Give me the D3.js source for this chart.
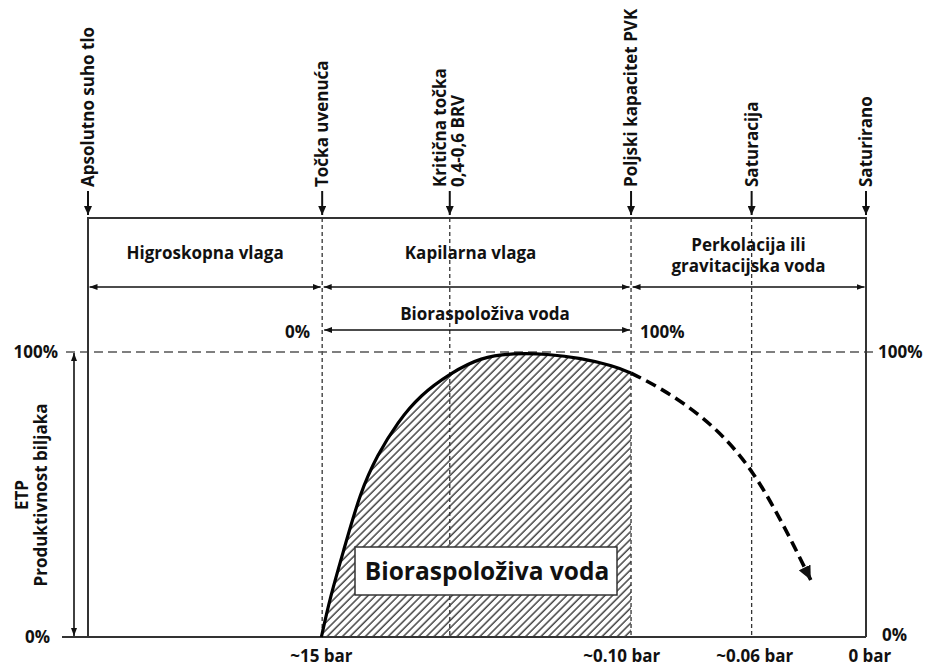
<!DOCTYPE html>
<html>
<head>
<meta charset="utf-8">
<script src="https://cdn.jsdelivr.net/npm/d3@7"></script>
<style>
  body { margin: 0; background: #fff; }
  text { font-family: "Open Sans", "Noto Sans", sans-serif; font-weight: bold; fill: #111; }
</style>
</head>
<body>
<svg id="chart" width="926" height="667"></svg>
<script>
// soil moisture axis runs 0..100 (dry -> saturated), productivity 0..100 %
var markerNames = [["Apsolutno suho tlo"], ["Točka uvenuća"], ["Kritična točka", "0,4-0,6 BRV"],
                   ["Poljski kapacitet PVK"], ["Saturacija"], ["Saturirano"]];
var markerPos = [0, 30.1, 46.5, 69.8, 85.3, 100];

var zoneNames = [["Higroskopna vlaga"], ["Kapilarna vlaga"], ["Perkolacija ili", "gravitacijska voda"]];
var zoneFrom = [0, 30.1, 69.8];
var zoneTo = [30.1, 69.8, 100];

var barLabels = ["~15 bar", "~0.10 bar", "~0.06 bar", "0 bar"];
var barPos = [30.0, 68.6, 85.7, 100.5];

// ETP curve (solid part = plant available water)
var curveX = [30.0, 31.1, 32.8, 35.0, 37.2, 39.8, 42.7, 46.6, 50.5, 54.7, 59.1, 63.3, 67.6, 69.8];
var curveY = [0, 13.7, 29.8, 50.9, 63.9, 75.4, 84.9, 92.6, 98.2, 99.6, 99.3, 97.9, 95.1, 92.6];
// dashed continuation into the saturated zone
var dashX = [69.8, 73.6, 78.4, 82.2, 85.5, 88.2, 90.7, 92.9];
var dashY = [92.6, 87.4, 78.6, 69.1, 57.9, 45.3, 32.3, 20.0];

var fs = 17;   // label font size

var svg = d3.select("#chart");
var x = d3.scaleLinear().domain([0, 100]).range([88, 866]);
var y = d3.scaleLinear().domain([0, 100]).range([637, 352]);
var frameTop = 218;

var defs = svg.append("defs");
function arrowMarker(id, len, wid) {
  defs.append("marker")
    .attr("id", id)
    .attr("viewBox", "0 0 " + len + " " + wid)
    .attr("refX", len).attr("refY", wid / 2)
    .attr("markerWidth", len).attr("markerHeight", wid)
    .attr("markerUnits", "userSpaceOnUse")
    .attr("orient", "auto-start-reverse")
    .append("path")
    .attr("d", "M0,0L" + len + "," + (wid / 2) + "L0," + wid + "Z")
    .attr("fill", "#111");
}
arrowMarker("small", 8, 6);
arrowMarker("top", 9, 8);
arrowMarker("big", 14, 13);

var pat = defs.append("pattern")
  .attr("id", "hatch")
  .attr("patternUnits", "userSpaceOnUse")
  .attr("width", 5.4).attr("height", 10)
  .attr("patternTransform", "rotate(45)");
pat.append("line")
  .attr("x1", 1).attr("y1", 0).attr("x2", 1).attr("y2", 10)
  .attr("stroke", "#000").attr("stroke-width", 1.1);

var solidPts = d3.zip(curveX, curveY);
var curveType = d3.curveBasis;

// hatched area under the solid curve
svg.append("path")
  .attr("d", d3.area()
    .x(function(d) { return x(d[0]); })
    .y0(y(0))
    .y1(function(d) { return y(d[1]); })
    .curve(curveType)(solidPts))
  .attr("fill", "url(#hatch)");

// vertical dashed lines
svg.selectAll(".vline")
  .data(markerPos.slice(1, 5))
  .enter().append("line")
  .attr("x1", function(d) { return x(d); }).attr("x2", function(d) { return x(d); })
  .attr("y1", frameTop).attr("y2", y(0))
  .attr("stroke", "#333").attr("stroke-width", 1.3)
  .attr("stroke-dasharray", "4,3");

// 100% dashed line
svg.append("line")
  .attr("x1", 66).attr("x2", 876)
  .attr("y1", y(100)).attr("y2", y(100))
  .attr("stroke", "#555").attr("stroke-width", 1.6)
  .attr("stroke-dasharray", "9,5");

// frame
svg.append("path")
  .attr("d", "M" + x(0) + "," + y(0) + "V" + frameTop + "H" + x(100) + "V" + y(0))
  .attr("fill", "none").attr("stroke", "#333").attr("stroke-width", 2);
svg.append("line")
  .attr("x1", 62).attr("x2", x(100))
  .attr("y1", y(0)).attr("y2", y(0))
  .attr("stroke", "#333").attr("stroke-width", 2);

// curve
var line = d3.line()
  .x(function(d) { return x(d[0]); })
  .y(function(d) { return y(d[1]); })
  .curve(curveType);
svg.append("path")
  .attr("d", line(solidPts))
  .attr("fill", "none").attr("stroke", "#000").attr("stroke-width", 3.2);
svg.append("path")
  .attr("d", line(d3.zip(dashX, dashY)))
  .attr("fill", "none").attr("stroke", "#000").attr("stroke-width", 3.6)
  .attr("stroke-dasharray", "11,6")
  .attr("marker-end", "url(#big)");

// top markers: arrows + rotated labels
var markers = svg.selectAll(".marker")
  .data(markerPos)
  .enter().append("g");
markers.append("line")
  .attr("x1", function(d) { return x(d); }).attr("x2", function(d) { return x(d); })
  .attr("y1", 191).attr("y2", 215)
  .attr("stroke", "#111").attr("stroke-width", 2)
  .attr("marker-end", "url(#top)");
markers.append("text")
  .attr("transform", function(d) { return "translate(" + x(d) + ",187) rotate(-90)"; })
  .attr("font-size", fs)
  .selectAll("tspan")
  .data(function(d, i) { return markerNames[i]; })
  .enter().append("tspan")
  .attr("x", 0)
  .attr("dy", function(d, j, n) { return j == 0 ? (n.length > 1 ? "-0.2em" : "0.36em") : "1.05em"; })
  .text(function(d) { return d; });

// zones with double arrows
zoneNames.forEach(function(names, i) {
  var cx = (x(zoneFrom[i]) + x(zoneTo[i])) / 2 + (i == 1 ? -6 : 0);
  var t = svg.append("text")
    .attr("y", names.length > 1 ? 251 : 259)
    .attr("text-anchor", "middle")
    .attr("font-size", fs);
  names.forEach(function(n, j) {
    t.append("tspan").attr("x", cx).attr("dy", j == 0 ? 0 : 21).text(n);
  });
  svg.append("line")
    .attr("x1", x(zoneFrom[i]) + 1.5).attr("x2", x(zoneTo[i]) - 1.5)
    .attr("y1", 287).attr("y2", 287)
    .attr("stroke", "#111").attr("stroke-width", 1.6)
    .attr("marker-start", "url(#small)").attr("marker-end", "url(#small)");
});

// bioavailable water range
svg.append("text")
  .attr("x", 485).attr("y", 320)
  .attr("text-anchor", "middle").attr("font-size", fs)
  .text("Bioraspoloživa voda");
svg.append("line")
  .attr("x1", x(30.1) + 2).attr("x2", x(69.8) - 1)
  .attr("y1", 330).attr("y2", 330)
  .attr("stroke", "#111").attr("stroke-width", 1.6)
  .attr("marker-start", "url(#small)").attr("marker-end", "url(#small)");
svg.append("text").attr("x", 310).attr("y", 338).attr("text-anchor", "end")
  .attr("font-size", fs).text("0%");
svg.append("text").attr("x", 640).attr("y", 338)
  .attr("font-size", fs).text("100%");

// y labels
svg.append("text").attr("x", 58).attr("y", y(100) + 6).attr("text-anchor", "end")
  .attr("font-size", fs).text("100%");
svg.append("text").attr("x", 50).attr("y", y(0) + 6).attr("text-anchor", "end")
  .attr("font-size", fs).text("0%");
svg.append("text").attr("x", 878).attr("y", y(100) + 6)
  .attr("font-size", fs).text("100%");
svg.append("text").attr("x", 882).attr("y", y(0) + 4)
  .attr("font-size", fs).text("0%");

svg.append("line")
  .attr("x1", 74).attr("x2", 74)
  .attr("y1", y(100) + 1).attr("y2", y(0) - 1)
  .attr("stroke", "#111").attr("stroke-width", 1.6)
  .attr("marker-start", "url(#small)").attr("marker-end", "url(#small)");

var ylab = svg.append("text")
  .attr("transform", "translate(33,495) rotate(-90)")
  .attr("text-anchor", "middle").attr("font-size", fs);
ylab.append("tspan").attr("x", 0).attr("dy", "-0.3em").text("ETP");
ylab.append("tspan").attr("x", 0).attr("dy", "1.15em").text("Produktivnost biljaka");

// bar labels under the axis
svg.selectAll(".bar")
  .data(barLabels)
  .enter().append("text")
  .attr("x", function(d, i) { return x(barPos[i]); })
  .attr("y", 662)
  .attr("text-anchor", "middle").attr("font-size", fs)
  .text(function(d) { return d; });

// box label
var bx = 355, by = 547, bw = 262, bh = 48;
svg.append("rect")
  .attr("x", bx).attr("y", by).attr("width", bw).attr("height", bh)
  .attr("fill", "#fff").attr("stroke", "#333").attr("stroke-width", 1.5);
svg.append("text")
  .attr("x", bx + bw / 2 + 1).attr("y", by + bh / 2 + 8.5)
  .attr("text-anchor", "middle").attr("font-size", 24.5)
  .text("Bioraspoloživa voda");
</script>
</body>
</html>
